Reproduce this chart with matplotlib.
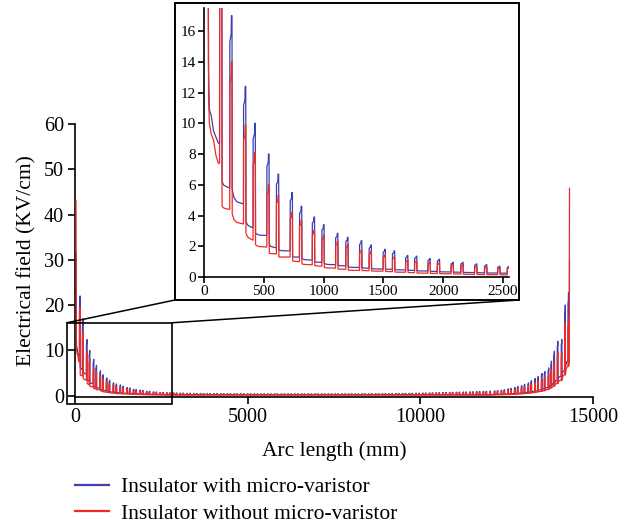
import numpy as np
import matplotlib
matplotlib.use("Agg")
import matplotlib.pyplot as plt
from matplotlib.patches import Rectangle, ConnectionPatch
from matplotlib.lines import Line2D

plt.rcParams['font.family'] = ['Liberation Serif', 'DejaVu Serif']

# ---------------- data ----------------
# start of the rod (high-voltage end)
start_x = [30, 38, 45, 60, 80, 100, 120]
blue_start = [31.5, 13.6, 10.9, 10.5, 9.5, 9.1, 8.7]
red_start = [43.0, 11.7, 10.0, 9.3, 8.9, 7.9, 7.4]

# individual shed spikes in the zoomed region (0-2600 mm)
left_x = [140, 225, 340, 420, 535, 615, 730, 808, 915, 995, 1110, 1195, 1310,
          1390, 1507, 1585, 1695, 1770, 1882, 1960, 2075, 2157, 2272, 2355, 2465, 2545]
left_blue_base = [8.7, 5.8, 4.75, 3.2, 2.7, 1.9, 1.7, 1.3, 1.1, 0.95, 0.8, 0.72, 0.62,
                  0.57, 0.52, 0.5, 0.46, 0.43, 0.39, 0.36, 0.33, 0.31, 0.29, 0.27, 0.26, 0.25]
left_blue_peak = [22.0, 17.0, 12.4, 10.0, 8.0, 6.7, 5.5, 4.6, 3.9, 3.4, 2.84, 2.58, 2.36,
                  2.08, 1.8, 1.7, 1.4, 1.35, 1.2, 1.15, 0.95, 0.95, 0.85, 0.8, 0.7, 0.7]
left_blue_after = [6.2, 5.7, 3.6, 2.85, 2.1, 1.75, 1.3, 1.2, 1.0, 0.88, 0.76, 0.66, 0.6,
                   0.55, 0.51, 0.48, 0.44, 0.41, 0.37, 0.34, 0.32, 0.3, 0.28, 0.26, 0.25, 0.25]
left_red_base = [7.4, 4.4, 3.45, 2.4, 1.95, 1.5, 1.3, 1.0, 0.8, 0.7, 0.58, 0.5, 0.43,
                 0.41, 0.38, 0.35, 0.31, 0.28, 0.25, 0.23, 0.21, 0.19, 0.17, 0.16, 0.15, 0.14]
left_red_peak = [19.5, 14.0, 9.9, 8.1, 6.0, 5.3, 4.2, 3.7, 3.05, 2.7, 2.3, 2.1, 1.76,
                 1.65, 1.43, 1.3, 1.1, 1.05, 0.95, 0.9, 0.8, 0.8, 0.7, 0.65, 0.6, 0.6]
left_red_after = [4.6, 4.1, 2.85, 2.1, 1.55, 1.3, 1.05, 0.85, 0.75, 0.62, 0.52, 0.45, 0.42,
                  0.39, 0.36, 0.32, 0.29, 0.26, 0.24, 0.22, 0.2, 0.18, 0.17, 0.16, 0.15, 0.14]

# middle part of the rod: sheds with nearly constant field
mid_x = [2660, 2745, 2855, 2940, 3050, 3135, 3245, 3330, 3440, 3525, 3635, 3720,
         3830, 3915, 4025, 4110, 4220, 4305, 4415, 4500, 4610, 4695, 4805, 4890,
         5000, 5085, 5195, 5280, 5390, 5475, 5585, 5670, 5780, 5865, 5975, 6060,
         6170, 6255, 6365, 6450, 6560, 6645, 6755, 6840, 6950, 7035, 7145, 7230,
         7340, 7425, 7535, 7620, 7730, 7815, 7925, 8010, 8120, 8205, 8315, 8400,
         8510, 8595, 8705, 8790, 8900, 8985, 9095, 9180, 9290, 9375, 9485, 9570,
         9680, 9765, 9875, 9960, 10070, 10155, 10265, 10350, 10460, 10545, 10655, 10740,
         10850, 10935, 11045, 11130, 11240, 11325, 11435, 11520, 11630, 11715, 11825, 11910,
         12020]
mid_blue_peak = [0.65, 0.62, 0.6, 0.58, 0.56, 0.55, 0.53, 0.52, 0.5, 0.5, 0.48, 0.48,
                 0.47, 0.46, 0.45, 0.45, 0.44, 0.44, 0.43, 0.43, 0.42, 0.42, 0.42, 0.41,
                 0.41, 0.41, 0.4, 0.4, 0.4, 0.4, 0.4, 0.4, 0.4, 0.4, 0.4, 0.4,
                 0.4, 0.4, 0.4, 0.4, 0.4, 0.4, 0.4, 0.4, 0.4, 0.4, 0.4, 0.4,
                 0.4, 0.4, 0.4, 0.4, 0.4, 0.4, 0.4, 0.4, 0.41, 0.41, 0.41, 0.42,
                 0.42, 0.42, 0.43, 0.43, 0.44, 0.44, 0.45, 0.46, 0.47, 0.48, 0.49, 0.5,
                 0.51, 0.52, 0.54, 0.55, 0.57, 0.58, 0.6, 0.62, 0.64, 0.66, 0.68, 0.7,
                 0.72, 0.74, 0.76, 0.78, 0.8, 0.82, 0.85, 0.87, 0.9, 0.92, 0.95, 0.97,
                 1.0]
mid_red_peak = [0.55, 0.52, 0.5, 0.48, 0.46, 0.45, 0.43, 0.42, 0.4, 0.4, 0.38, 0.38,
                0.37, 0.36, 0.35, 0.35, 0.34, 0.34, 0.33, 0.33, 0.32, 0.32, 0.32, 0.31,
                0.31, 0.31, 0.3, 0.3, 0.3, 0.3, 0.3, 0.3, 0.3, 0.3, 0.3, 0.3,
                0.3, 0.3, 0.3, 0.3, 0.3, 0.3, 0.3, 0.3, 0.3, 0.3, 0.3, 0.3,
                0.3, 0.3, 0.3, 0.3, 0.3, 0.3, 0.3, 0.3, 0.31, 0.31, 0.31, 0.32,
                0.32, 0.32, 0.33, 0.33, 0.34, 0.34, 0.35, 0.36, 0.37, 0.38, 0.39, 0.4,
                0.41, 0.42, 0.43, 0.44, 0.45, 0.46, 0.48, 0.5, 0.51, 0.53, 0.54, 0.56,
                0.57, 0.59, 0.6, 0.62, 0.64, 0.65, 0.67, 0.69, 0.71, 0.73, 0.75, 0.77,
                0.8]
mid_blue_base = 0.22
mid_red_base = 0.12

# shed spikes at the ground end
right_x = [12150, 12235, 12345, 12430, 12540, 12625, 12735, 12820, 12930, 13015,
           13125, 13210, 13320, 13405, 13515, 13600, 13710, 13790, 13875, 13975,
           14090, 14190, 14285]
right_blue_base = [0.25, 0.28, 0.3, 0.33, 0.36, 0.4, 0.45, 0.5, 0.55, 0.62, 0.7,
                   0.8, 0.95, 1.1, 1.3, 1.5, 1.8, 2.2, 2.7, 3.4, 4.3, 5.6, 7.8]
right_blue_peak = [1.05, 1.1, 1.2, 1.3, 1.5, 1.6, 1.8, 2.0, 2.2, 2.5, 2.8, 3.3, 3.8,
                   4.2, 4.9, 5.3, 6.1, 7.6, 9.8, 12.0, 12.4, 20.0, 22.7]
right_red_base = [0.15, 0.17, 0.19, 0.21, 0.23, 0.26, 0.3, 0.34, 0.38, 0.43, 0.5,
                  0.58, 0.68, 0.8, 0.95, 1.1, 1.35, 1.7, 2.1, 2.7, 3.4, 4.6, 6.5]
right_red_peak = [0.85, 0.9, 0.95, 1.0, 1.15, 1.25, 1.4, 1.55, 1.7, 1.95, 2.2, 2.5,
                  2.9, 3.2, 3.7, 4.1, 4.6, 5.8, 7.2, 9.5, 9.5, 16.1, 17.0]

# end of the rod
end_x = [14310, 14320]
blue_end = [9.0, 30.0]
red_end = [7.8, 45.8]

label_blue = "Insulator with micro-varistor"
label_red = "Insulator without micro-varistor"
main_xticks = [0, 5000, 10000, 15000]
main_yticks = [0, 10, 20, 30, 40, 50, 60]
inset_xticks = [0, 500, 1000, 1500, 2000, 2500]
inset_yticks = [0, 2, 4, 6, 8, 10, 12, 14, 16]


def build(sx, sy, spikes, ex, ey):
    """Assemble the polyline: each spike = (x, base before, peak, level after)."""
    xs, ys = list(sx), list(sy)
    for i, (x, b, p, a) in enumerate(spikes):
        xs += [x - 10, x - 9, x + 2, x + 4, x + 9, x + 11]
        ys += [b, 0.9 * p, 0.93 * p, p, p, a]
        if i + 1 < len(spikes):
            nb = spikes[i + 1][1]
            xs += [x + 25, x + 50]
            ys += [a + 0.55 * (nb - a), a + 0.85 * (nb - a)]
    xs += list(ex)
    ys += list(ey)
    return np.array(xs), np.array(ys)


def spikes_for(lx, lb, lp, la, mx, mp, mb, rx, rb, rp):
    out = list(zip(lx, lb, lp, la))
    out += [(x, mb, p, mb) for x, p in zip(mx, mp)]
    out += [(x, b, p, b) for x, b, p in zip(rx, rb, rp)]
    return out


blue_sp = spikes_for(left_x, left_blue_base, left_blue_peak, left_blue_after,
                     mid_x, mid_blue_peak, mid_blue_base,
                     right_x, right_blue_base, right_blue_peak)
red_sp = spikes_for(left_x, left_red_base, left_red_peak, left_red_after,
                    mid_x, mid_red_peak, mid_red_base,
                    right_x, right_red_base, right_red_peak)
bx, by = build(start_x, blue_start, blue_sp, end_x, blue_end)
rx, ry = build(start_x, red_start, red_sp, end_x, red_end)

BLUE = '#3f3fb2'
RED = '#ee2a24'

# ---------------- figure ----------------
fig = plt.figure(figsize=(6.35, 5.29), dpi=100)
W, H = 635.0, 529.0

ax = fig.add_axes([75 / W, 1 - 397 / H, 518 / W, 273 / H])
ax.plot(bx, by, color=BLUE, lw=0.9, zorder=2)
ax.plot(rx, ry, color=RED, lw=0.9, zorder=3)
ax.set_xlim(0, 15000)
ax.set_ylim(-0.3, 60)
ax.set_xticks(main_xticks)
ax.set_yticks(main_yticks)
for s in ['top', 'right']:
    ax.spines[s].set_visible(False)
for s in ['left', 'bottom']:
    ax.spines[s].set_linewidth(1.2)
ax.spines['left'].set_bounds(0, 60)
ax.tick_params(direction='out', length=5, width=1.2, labelsize=14.5, pad=3)
ax.set_xlabel("Arc length (mm)", fontsize=15.5, labelpad=10)
ax.set_ylabel("Electrical field (KV/cm)", fontsize=15.5, labelpad=5)

# zoom rectangle on the main axes
ax.add_patch(Rectangle((-232, -1.76), 3041, 17.86, fill=False, edgecolor='black',
                       lw=1.2, clip_on=False, zorder=5))

# frame around the inset
fig.add_artist(Rectangle((175 / W, 1 - 300 / H), (519 - 175) / W, (300 - 3) / H,
                         transform=fig.transFigure, facecolor='white',
                         edgecolor='black', lw=1.4, zorder=1))
for xa, xb in [(-232, 175 / W), (2809, 519 / W)]:
    fig.add_artist(ConnectionPatch(xyA=(xa, 16.1), coordsA=ax.transData,
                                   xyB=(xb, 1 - 300 / H), coordsB=fig.transFigure,
                                   color='black', lw=1.1, zorder=1))

ins = fig.add_axes([204 / W, 1 - 277 / H, 305 / W, 269 / H], zorder=2)
ins.patch.set_alpha(0)
ins.plot(bx, by, color=BLUE, lw=0.9)
ins.plot(rx, ry, color=RED, lw=0.9)
ins.set_xlim(0, 2550)
ins.set_ylim(0, 17.5)
ins.set_xticks(inset_xticks)
ins.set_yticks(inset_yticks)
for s in ['top', 'right']:
    ins.spines[s].set_visible(False)
for s in ['left', 'bottom']:
    ins.spines[s].set_linewidth(1.2)
ins.tick_params(direction='out', length=4, width=1.2, labelsize=11, pad=2)

# legend below
h1 = Line2D([], [], color=BLUE, lw=1.6)
h2 = Line2D([], [], color=RED, lw=1.6)
fig.legend([h1, h2], [label_blue, label_red], loc='upper left',
           bbox_to_anchor=(75 / W, 1 - 477 / H), frameon=False, borderpad=0,
           borderaxespad=0, handlelength=1.6, handletextpad=0.55,
           labelspacing=0.3, fontsize=15.5)

fig.savefig("out.png", dpi=100)
